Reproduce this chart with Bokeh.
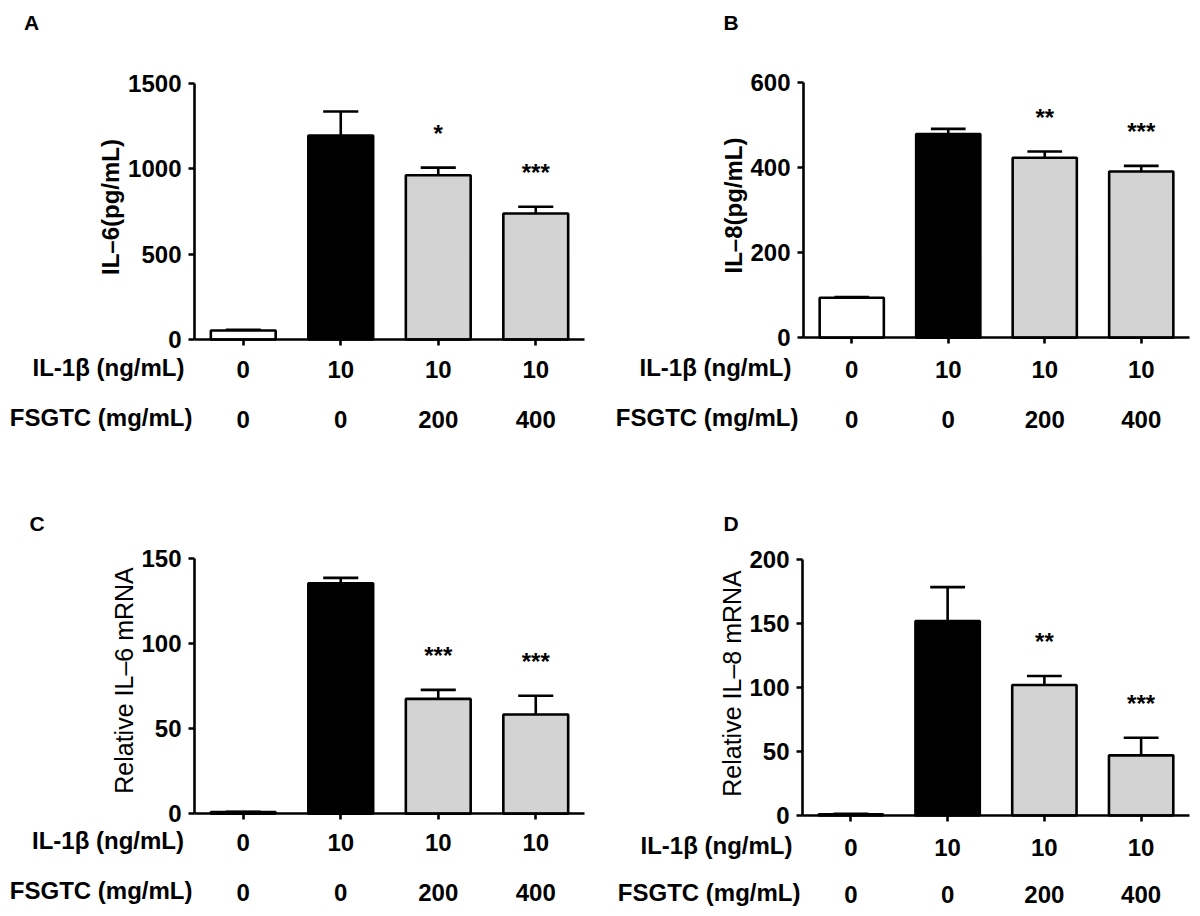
import math
from bokeh.plotting import figure
from bokeh.models import Range1d, FixedTicker, LinearAxis, ColumnDataSource
from bokeh.core.properties import value
from bokeh.layouts import column, row
from bokeh.embed import file_html
from bokeh.resources import INLINE

# ---------------- data ----------------
positions = [0.5, 1.5, 2.5, 3.5]
il1b_title = "IL-1β (ng/mL)"
fsgtc_title = "FSGTC (mg/mL)"
il1b_labels = ["0", "10", "10", "10"]
fsgtc_labels = ["0", "0", "200", "400"]
bar_colors = ["#ffffff", "#000000", "#d3d3d3", "#d3d3d3"]

il6_protein = [53, 1195, 962, 738]
il6_protein_err = [4, 141, 45, 40]
il6_protein_sig = ["", "", "*", "***"]

il8_protein = [94, 479, 423, 391]
il8_protein_err = [2, 12, 15, 13]
il8_protein_sig = ["", "", "**", "***"]

il6_mrna = [1, 135.6, 67.6, 58.4]
il6_mrna_err = [0.2, 3.2, 5.3, 11.0]
il6_mrna_sig = ["", "", "***", "***"]

il8_mrna = [1, 152, 102, 47]
il8_mrna_err = [0.3, 26.4, 7.0, 13.7]
il8_mrna_sig = ["", "", "**", "***"]

FONT = "Liberation Sans"
BAR_W = 0.665
CAP_W = 0.36
LW = 2.6
FIG_W = 596
FIG_H = 454


def style_axis(ax, standoff, lines=True):
    if lines:
        ax.axis_line_width = LW
        ax.axis_line_color = "black"
        ax.major_tick_line_width = LW
        ax.major_tick_line_color = "black"
        ax.major_tick_out = 6
    else:
        ax.axis_line_color = None
        ax.major_tick_line_color = None
        ax.major_tick_out = 0
    ax.major_tick_in = 0
    ax.minor_tick_line_color = None
    ax.minor_tick_out = 0
    ax.minor_tick_in = 0
    ax.major_label_standoff = int(round(standoff))
    ax.major_label_text_font = FONT
    ax.major_label_text_font_size = "24px"
    ax.major_label_text_font_style = "bold"
    ax.major_label_text_color = "black"


def panel(letter, vals, errs, sig, ymax, yticks, ylabel, ylabel_bold,
          ax_px, end_px, ytop_px, y0_px, letter_pos, ylabel_pos, il_pos, fs_pos, il_std, fs_std):
    # the frame covers the whole canvas; these map canvas pixels to data values
    kx = 4.0 / (end_px - ax_px)
    ky = ymax / (y0_px - ytop_px)

    def dx(px):
        return (px - ax_px) * kx

    def dy(py):
        return (y0_px - py) * ky

    p = figure(width=FIG_W, height=FIG_H, title=None,
               x_range=Range1d(dx(0), dx(FIG_W)), y_range=Range1d(dy(FIG_H), dy(0)),
               output_backend="svg", toolbar_location=None,
               min_border_left=0, min_border_right=0, min_border_top=0, min_border_bottom=0)
    p.outline_line_color = None
    p.xgrid.visible = False
    p.ygrid.visible = False
    p.background_fill_color = "white"
    p.border_fill_color = "white"

    tops = [v + e for v, e in zip(vals, errs)]
    src = ColumnDataSource(dict(x=positions, top=vals, color=bar_colors, etop=tops,
                                x0=[x - CAP_W / 2 for x in positions],
                                x1=[x + CAP_W / 2 for x in positions]))
    p.segment(x0="x", y0="top", x1="x", y1="etop", source=src, line_color="black", line_width=LW)
    p.segment(x0="x0", y0="etop", x1="x1", y1="etop", source=src, line_color="black", line_width=LW)
    p.vbar(x="x", top="top", bottom=0, width=BAR_W, fill_color="color", line_color="black",
           line_width=LW, source=src)

    sig_idx = [i for i, s in enumerate(sig) if s]
    sig_src = ColumnDataSource(dict(x=[positions[i] for i in sig_idx],
                                    y=[tops[i] for i in sig_idx],
                                    t=[sig[i] for i in sig_idx]))
    p.text(x="x", y="y", text="t", source=sig_src, text_align="center", text_baseline="alphabetic",
           y_offset=-34, text_font_size="24px", text_font=value(FONT), text_font_style="bold",
           text_color="black")

    # y axis drawn at x = 0, from 0 to ymax
    ya = p.yaxis[0]
    ya.fixed_location = 0
    ya.bounds = (0, ymax)
    ya.ticker = FixedTicker(ticks=yticks)
    style_axis(ya, 7)

    # x axis drawn at y = 0 carrying the IL-1beta row
    xa = p.xaxis[0]
    xa.fixed_location = 0
    xa.bounds = (0, 4)
    xa.ticker = FixedTicker(ticks=positions)
    xa.major_label_overrides = {x: t for x, t in zip(positions, il1b_labels)}
    style_axis(xa, il_std)

    # FSGTC row
    xf = LinearAxis(ticker=FixedTicker(ticks=positions), fixed_location=0, bounds=(0, 4),
                    major_label_overrides={x: t for x, t in zip(positions, fsgtc_labels)})
    style_axis(xf, fs_std, lines=False)
    p.add_layout(xf, "below")

    # texts left of the y axis
    def put(text, pos, align, size="24px", style="bold", angle=0.0):
        p.text(x=[dx(pos[0])], y=[dy(pos[1])], text=[text], text_align=align,
               text_baseline="middle", angle=angle, text_font=value(FONT),
               text_font_size=size, text_font_style=style, text_color="black")

    put(letter, letter_pos, "center", size="21px")
    put(ylabel, ylabel_pos, "center", size="24px" if ylabel_bold else "25px",
        style="bold" if ylabel_bold else "normal", angle=math.pi / 2)
    put(il1b_title, il_pos, "right")
    put(fsgtc_title, fs_pos, "right")
    return p


pA = panel("A", il6_protein, il6_protein_err, il6_protein_sig, 1500, [0, 500, 1000, 1500],
           "IL–6(pg/mL)", True, 194, 584, 83, 339,
           (31, 22), (110, 206.5), (184, 367), (192, 417), 15, 71)
pB = panel("B", il8_protein, il8_protein_err, il8_protein_sig, 600, [0, 200, 400, 600],
           "IL–8(pg/mL)", True, 207, 593, 82, 337.3,
           (134.5, 22), (136.5, 205), (195, 367), (202, 417), 17, 73)
pC = panel("C", il6_mrna, il6_mrna_err, il6_mrna_sig, 150, [0, 50, 100, 150],
           "Relative IL–6 mRNA", False, 194, 584, 104.3, 359.3,
           (36.5, 69.3), (123.5, 226), (183.5, 386), (192, 436), 14, 70)
pD = panel("D", il8_mrna, il8_mrna_err, il8_mrna_sig, 200, [0, 50, 100, 150, 200],
           "Relative IL–8 mRNA", False, 206, 593, 105, 361,
           (134.5, 69.3), (135, 229), (196, 391), (204, 438), 17, 70)

layout = column(row(pA, pB, spacing=0), row(pC, pD, spacing=0), spacing=0)
open("out.html", "w").write(file_html(layout, INLINE))
